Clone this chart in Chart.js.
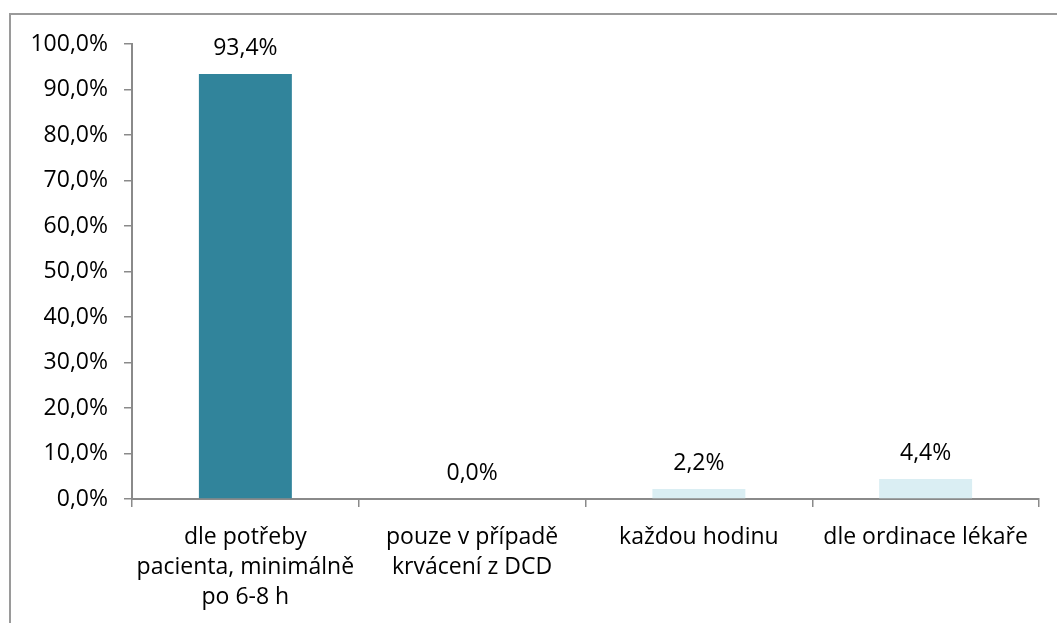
<!DOCTYPE html>
<html lang="cs">
<head>
    <meta charset="UTF-8">
    <title>Četnost</title>
    <style>
        body {
            margin: 0;
            padding: 0;
            background: #fff;
            overflow: hidden;
        }
        .frame {
            position: absolute;
            left: 9px;
            top: 13px;
            width: 1200px;
            height: 800px;
            border: 2px solid #9a9a9a;
        }
        .wrap {
            position: absolute;
            left: 0;
            top: 0;
            width: 1057px;
            height: 623px;
        }
    </style>
</head>
<body>
    <div class="frame"></div>
    <div class="wrap">
        <canvas id="chart"></canvas>
    </div>
    <script src="https://cdn.jsdelivr.net/npm/chart.js"></script>
    <script>
        const categories = [
            ['dle potřeby', 'pacienta, minimálně', 'po 6-8 h'],
            ['pouze v případě', 'krvácení z DCD'],
            'každou hodinu',
            'dle ordinace lékaře'
        ];
        const values = [93.4, 0.0, 2.2, 4.4];
        const barColors = ['#31849b', '#daeef3', '#daeef3', '#daeef3'];
        const yTicks = [0, 10, 20, 30, 40, 50, 60, 70, 80, 90, 100];

        const fontFamily = "'Open Sans', 'Noto Sans', sans-serif";
        const axisGray = '#8a8a8a';

        function pct(v) {
            return v.toFixed(1).replace('.', ',') + '%';
        }

        // labels above bars
        const valueLabels = {
            id: 'valueLabels',
            afterDatasetsDraw(chart) {
                const ctx = chart.ctx;
                const meta = chart.getDatasetMeta(0);
                ctx.save();
                ctx.font = '23px ' + fontFamily;
                ctx.fillStyle = '#000';
                ctx.textAlign = 'center';
                ctx.textBaseline = 'alphabetic';
                meta.data.forEach((bar, i) => {
                    ctx.fillText(pct(values[i]), bar.x, bar.y - 19);
                });
                ctx.restore();
            }
        };

        new Chart(document.getElementById('chart'), {
            type: 'bar',
            data: {
                labels: categories,
                datasets: [{
                    data: values,
                    backgroundColor: barColors,
                    borderWidth: 0,
                    categoryPercentage: 0.41,
                    barPercentage: 1.0
                }]
            },
            options: {
                responsive: true,
                maintainAspectRatio: false,
                animation: false,
                layout: {
                    padding: { left: 0, right: 18, top: 44, bottom: 0 }
                },
                plugins: {
                    legend: { display: false },
                    tooltip: { enabled: false }
                },
                scales: {
                    x: {
                        grid: {
                            offset: true,
                            drawOnChartArea: false,
                            tickLength: 8,
                            color: axisGray,
                            lineWidth: 1.5
                        },
                        border: { color: axisGray, width: 2 },
                        ticks: {
                            color: '#000',
                            font: { family: fontFamily, size: 23, lineHeight: 1.3 },
                            padding: 16,
                            maxRotation: 0,
                            autoSkip: false
                        },
                        afterFit(scale) {
                            scale.height = 124;
                        }
                    },
                    y: {
                        min: 0,
                        max: 100,
                        afterBuildTicks(scale) {
                            scale.ticks = yTicks.map(v => ({ value: v }));
                        },
                        grid: {
                            drawOnChartArea: false,
                            tickLength: 8,
                            color: axisGray,
                            lineWidth: 1.5
                        },
                        border: { color: axisGray, width: 2 },
                        ticks: {
                            color: '#000',
                            font: { family: fontFamily, size: 23 },
                            padding: 16,
                            callback: v => pct(v)
                        },
                        afterFit(scale) {
                            scale.width = 132;
                        }
                    }
                }
            },
            plugins: [valueLabels]
        });
    </script>
</body>
</html>
